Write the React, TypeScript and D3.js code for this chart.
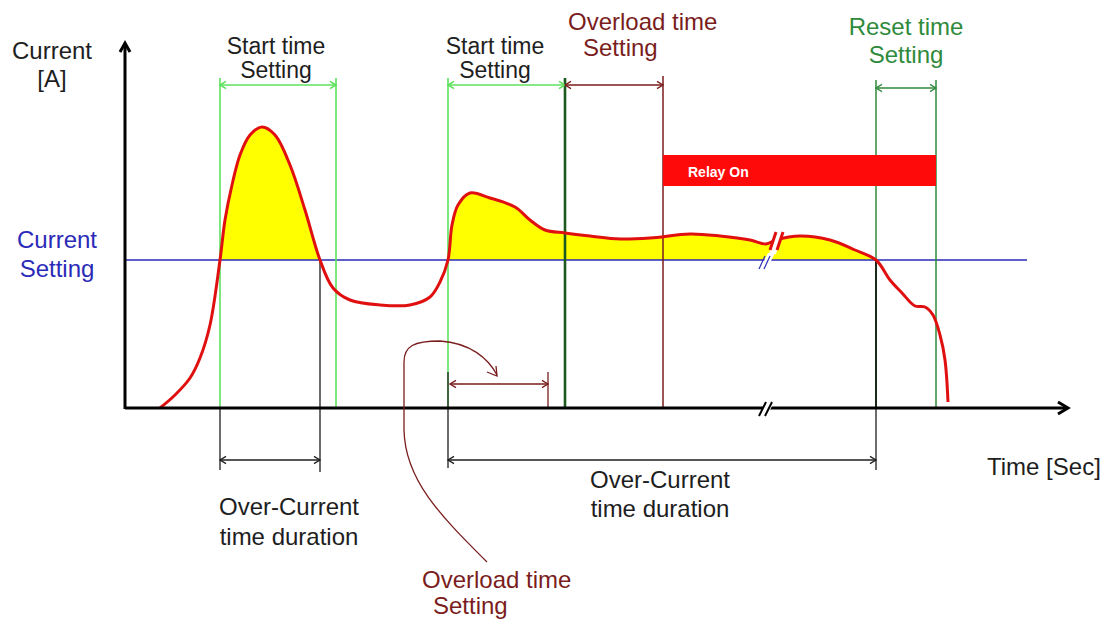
import React from 'react';
import * as d3 from 'd3';

// time axis in arbitrary units (0..94), current in arbitrary units (0..37)
const curveT = [3.5, 5.0, 6.5, 7.5, 8.5, 9.5, 10.0, 10.7, 11.5, 12.5, 13.7, 15.0, 16.5, 18.0, 19.5, 20.8, 22.5, 25.5, 28.5, 30.5, 31.5, 32.3, 32.7, 33.3, 34.5, 36.5, 39.0, 40.5, 42.0, 44.0, 46.5, 49.5, 52.5, 56.5, 59.5, 62.5, 64.1, 65.1, 67.5, 70.5, 73.0, 75.1, 76.5, 77.7, 79.0, 80.0, 80.8, 81.5, 82.0, 82.3];
const curveI = [0, 1.3, 3.0, 5.0, 8.3, 14.8, 18.8, 22.3, 25.3, 27.3, 28.1, 27.3, 24.3, 19.8, 14.8, 12.0, 10.8, 10.3, 10.3, 11.1, 12.6, 14.8, 18.3, 20.3, 21.5, 21.0, 20.1, 18.8, 17.8, 17.5, 17.2, 16.9, 17.0, 17.4, 17.2, 16.8, 16.4, 16.8, 17.2, 16.8, 15.8, 14.8, 12.8, 11.5, 10.2, 10.1, 9.3, 7.3, 4.8, 0.6];

const currentSetting = 14.8;

// event times
const startA = 9.5;
const ocEndA = 19.5;
const startEndA = 21.1;
const startB = 32.3;
const overloadMarkEnd = 42.3;
const startEndB = 44.0;
const overloadEnd = 53.8;
const ocEndB = 75.1;
const resetEnd = 81.1;
const breakT = 64.6;

const relayOn = [overloadEnd, resetEnd];
const relayLevels = [22.2, 25.3];

const W = 1117;
const H = 620;

const x = d3.scaleLinear().domain([0, 94]).range([125, 1065]);
const y = d3.scaleLinear().domain([0, 37]).range([408, 38]);

const pts: [number, number][] = curveT.map((t, i) => [t, curveI[i]]);

const FONT = '"Liberation Sans", Arial, sans-serif';
const INK = '#1e1e1e';
const DRED = '#7a1d1d';
const LGREEN = '#5ee25e';
const DGREEN = '#2f8a3c';
const BLUE = '#2a2ab8';

function Dim({ x1, x2, yy, color, w = 1.3 }: { x1: number; x2: number; yy: number; color: string; w?: number }) {
  const a = 6;
  return (
    <g stroke={color} strokeWidth={w} fill="none">
      <line x1={x1} x2={x2} y1={yy} y2={yy} />
      <path d={`M${x1 + a},${yy - a * 0.6} L${x1},${yy} L${x1 + a},${yy + a * 0.6}`} />
      <path d={`M${x2 - a},${yy - a * 0.6} L${x2},${yy} L${x2 - a},${yy + a * 0.6}`} />
    </g>
  );
}

function Label({ cx, y1, lines, color = INK, size = 24, gap = 24 }: { cx: number; y1: number; lines: string[]; color?: string; size?: number; gap?: number }) {
  return (
    <text fontFamily={FONT} fontSize={size} fill={color} textAnchor="middle">
      {lines.map((l, i) => (
        <tspan key={i} x={cx} y={y1 + i * gap}>{l}</tspan>
      ))}
    </text>
  );
}

export default function App() {
  const line = d3.line<[number, number]>()
    .x(d => x(d[0]))
    .y(d => y(d[1]))
    .curve(d3.curveCatmullRom.alpha(0.5));
  const area = d3.area<[number, number]>()
    .x(d => x(d[0]))
    .y0(y(currentSetting))
    .y1(d => y(d[1]))
    .curve(d3.curveCatmullRom.alpha(0.5));

  const ys = y(currentSetting);
  const y0 = y(0);
  const bx = x(breakT);

  return (
    <svg width={W} height={H} style={{ position: 'absolute', left: 0, top: 0, background: '#fff' }}>
      <defs>
        <clipPath id="above">
          <rect x={0} y={0} width={W} height={ys} />
        </clipPath>
      </defs>

      {/* yellow over-current fill */}
      <path d={area(pts) || ''} fill="#ffff00" clipPath="url(#above)" />

      {/* current setting */}
      <line x1={x(0)} x2={1027} y1={ys} y2={ys} stroke={BLUE} strokeWidth={1.5} />

      {/* vertical markers */}
      <line x1={x(startA)} x2={x(startA)} y1={78} y2={y0} stroke={LGREEN} strokeWidth={1.6} />
      <line x1={x(startEndA)} x2={x(startEndA)} y1={78} y2={y0} stroke={LGREEN} strokeWidth={1.6} />
      <line x1={x(startB)} x2={x(startB)} y1={78} y2={y0} stroke={LGREEN} strokeWidth={1.6} />
      <line x1={x(startEndB)} x2={x(startEndB)} y1={78} y2={y0} stroke="#1d5a1d" strokeWidth={2.6} />
      <line x1={x(overloadEnd)} x2={x(overloadEnd)} y1={76} y2={y0} stroke={DRED} strokeWidth={1.5} />
      <line x1={x(ocEndB)} x2={x(ocEndB)} y1={80} y2={ys} stroke={DGREEN} strokeWidth={1.5} />
      <line x1={x(resetEnd)} x2={x(resetEnd)} y1={80} y2={y0} stroke={DGREEN} strokeWidth={1.5} />

      {/* black markers below */}
      <line x1={x(startA)} x2={x(startA)} y1={y0} y2={470} stroke={INK} strokeWidth={1.3} />
      <line x1={x(ocEndA)} x2={x(ocEndA)} y1={ys} y2={472} stroke={INK} strokeWidth={1.3} />
      <line x1={x(startB)} x2={x(startB)} y1={372} y2={468} stroke={INK} strokeWidth={1.3} />
      <line x1={x(ocEndB)} x2={x(ocEndB)} y1={ys} y2={y0} stroke="#1a2a1a" strokeWidth={2} />
      <line x1={x(ocEndB)} x2={x(ocEndB)} y1={y0} y2={470} stroke={INK} strokeWidth={1.3} />
      <line x1={x(overloadMarkEnd)} x2={x(overloadMarkEnd)} y1={372} y2={y0} stroke={DRED} strokeWidth={1.3} />

      {/* relay bar */}
      <rect x={x(relayOn[0])} y={y(relayLevels[1])} width={x(relayOn[1]) - x(relayOn[0])} height={y(relayLevels[0]) - y(relayLevels[1])} fill="#ff0a0a" />
      <text x={x(relayOn[0]) + 25} y={y(relayLevels[0]) - 9} fontFamily={FONT} fontWeight="bold" fontSize={14} fill="#fff">Relay On</text>

      {/* current curve */}
      <path d={line(pts) || ''} fill="none" stroke="#e01010" strokeWidth={3} strokeLinejoin="round" />

      {/* axes */}
      <g stroke="#000" strokeWidth={3} fill="none">
        <line x1={x(0)} x2={x(0)} y1={y0 + 1} y2={44} />
        <path d={`M${x(0) - 5},${52} L${x(0)},${43} L${x(0) + 5},${52}`} />
        <line x1={x(0)} x2={1066} y1={y0} y2={y0} />
        <path d={`M${1058},${y0 - 6} L${1068},${y0} L${1058},${y0 + 6}`} />
      </g>

      {/* axis break marks */}
      <g>
        <polygon points={`${bx - 12},${y0 + 8} ${bx - 4},${y0 - 8} ${bx + 4},${y0 - 8} ${bx - 4},${y0 + 8}`} fill="#fff" />
        <line x1={bx - 12} x2={bx - 5} y1={y0 + 8} y2={y0 - 6} stroke="#000" strokeWidth={2} />
        <line x1={bx - 6} x2={bx + 1} y1={y0 + 8} y2={y0 - 6} stroke="#000" strokeWidth={2} />
        <polygon points={`${bx - 10},${ys + 7} ${bx - 3},${ys - 7} ${bx + 4},${ys - 7} ${bx - 3},${ys + 7}`} fill="#fff" />
        <line x1={bx - 12} x2={bx - 6} y1={ys + 9} y2={ys - 4} stroke={BLUE} strokeWidth={1.2} />
        <line x1={bx - 7} x2={bx - 1} y1={ys + 9} y2={ys - 4} stroke={BLUE} strokeWidth={1.2} />
        <polygon points={`${bx - 2},${y(16.4) + 10} ${bx + 5},${y(16.8) - 10} ${bx + 12},${y(16.8) - 10} ${bx + 5},${y(16.4) + 10}`} fill="#fff" />
        <line x1={bx - 1} x2={bx + 5} y1={y(16.4) + 6} y2={y(16.8) - 8} stroke="#e01010" strokeWidth={3} />
        <line x1={bx + 6} x2={bx + 12} y1={y(16.4) + 6} y2={y(16.8) - 8} stroke="#e01010" strokeWidth={3} />
      </g>

      {/* dimension arrows */}
      <Dim x1={x(startA)} x2={x(startEndA)} yy={85} color={LGREEN} w={1.6} />
      <Dim x1={x(startB)} x2={x(startEndB)} yy={85} color={LGREEN} w={1.6} />
      <Dim x1={x(startEndB)} x2={x(overloadEnd)} yy={85} color={DRED} />
      <Dim x1={x(ocEndB)} x2={x(resetEnd)} yy={88} color={DGREEN} />
      <Dim x1={x(startA)} x2={x(ocEndA)} yy={460} color={INK} />
      <Dim x1={x(startB)} x2={x(ocEndB)} yy={460} color={INK} />
      <Dim x1={x(startB) + 2} x2={x(overloadMarkEnd)} yy={384} color={DRED} />

      {/* callout curve */}
      <path d="M487,562 C440,515 405,480 404,430 L404,362 C404,346 414,341 440,341 C470,343 488,358 497,375" fill="none" stroke={DRED} strokeWidth={1.3} />
      <path d="M487,372 L497,376 L496,366" fill="none" stroke={DRED} strokeWidth={1.3} />

      {/* labels */}
      <Label cx={52} y1={59} lines={['Current', '[A]']} gap={28} />
      <Label cx={276} y1={54} lines={['Start time', 'Setting']} size={23} gap={24} />
      <Label cx={495} y1={54} lines={['Start time', 'Setting']} size={23} gap={24} />
      <text fontFamily={FONT} fontSize={24} fill={DRED}>
        <tspan x={568} y={30}>Overload time</tspan>
        <tspan x={583} y={56}>Setting</tspan>
      </text>
      <Label cx={906} y1={35} lines={['Reset time', 'Setting']} color={DGREEN} gap={28} />
      <Label cx={57} y1={248} lines={['Current', 'Setting']} color={BLUE} gap={29} />
      <text x={987} y={475} fontFamily={FONT} fontSize={24} fill={INK}>Time [Sec]</text>
      <Label cx={289} y1={515} lines={['Over-Current', 'time duration']} gap={30} />
      <Label cx={660} y1={488} lines={['Over-Current', 'time duration']} gap={29} />
      <text fontFamily={FONT} fontSize={24} fill={DRED}>
        <tspan x={422} y={588}>Overload time</tspan>
        <tspan x={433} y={614}>Setting</tspan>
      </text>
    </svg>
  );
}
